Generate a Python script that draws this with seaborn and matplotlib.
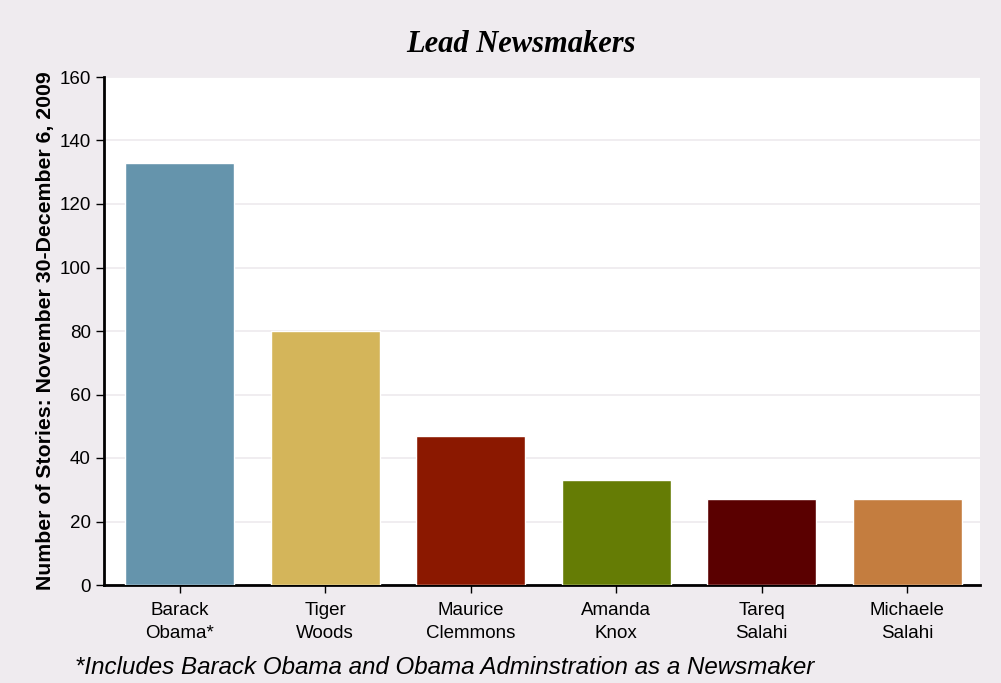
import matplotlib
matplotlib.use("Agg")
import matplotlib.pyplot as plt
import seaborn as sns
import pandas as pd

categories = ["Barack\nObama*", "Tiger\nWoods", "Maurice\nClemmons", "Amanda\nKnox", "Tareq\nSalahi", "Michaele\nSalahi"]
values = [133, 80, 47, 33, 27, 27]
colors = ["#6594AC", "#D4B55A", "#8B1800", "#657C05", "#5A0000", "#C47D3F"]
yticks = [0, 20, 40, 60, 80, 100, 120, 140, 160]

sns.set_style("white")
plt.rcParams['font.family'] = ['Liberation Sans', 'DejaVu Sans']

bg = "#EFEBEF"
fig = plt.figure(figsize=(10.01, 6.83), dpi=100, facecolor=bg)
ax = fig.add_axes([104/1001, 1-585/683, (980-104)/1001, (585-77)/683])
ax.set_facecolor("white")

df = pd.DataFrame({"name": categories, "stories": values})
sns.barplot(data=df, x="name", y="stories", hue="name", palette=colors,
            width=0.75, legend=False, ax=ax, zorder=3, saturation=1)

ax.set_ylim(0, 160)
ax.set_xlim(-0.52, 5.5)
ax.set_yticks(yticks)
ax.yaxis.grid(True, color="#EEEAEE", linewidth=1.2, zorder=0)
ax.set_axisbelow(True)
for s in ["top", "right"]:
    ax.spines[s].set_visible(False)
for s in ["left", "bottom"]:
    ax.spines[s].set_color("black")
    ax.spines[s].set_linewidth(2)
ax.tick_params(axis="both", direction="out", length=6, width=1, color="black",
               labelsize=13.5, labelcolor="black", left=True, bottom=True)
ax.tick_params(axis="x", pad=6)
for lbl in ax.get_xticklabels():
    lbl.set_linespacing(1.45)
ax.set_xlabel("")
ax.set_ylabel("Number of Stories: November 30-December 6, 2009",
              fontsize=15.3, fontweight="bold", labelpad=3, color="black")

fig.text(0.52, 1-44/683, "Lead Newsmakers", ha="center", va="center", color="black",
         fontsize=22, fontweight="bold", fontstyle="italic", family="Liberation Serif")
fig.text(75/1001, 1-667/683, "*Includes Barack Obama and Obama Adminstration as a Newsmaker",
         ha="left", va="center", fontsize=17.4, fontstyle="italic", color="black")

fig.savefig("out.png", dpi=100, facecolor=bg)
